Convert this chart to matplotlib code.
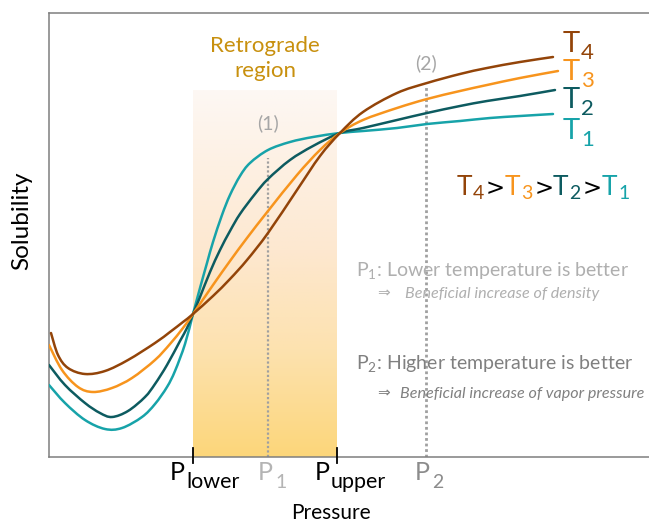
import numpy as np
import matplotlib
matplotlib.use("Agg")
import matplotlib.pyplot as plt
from matplotlib.path import Path
from matplotlib.patches import PathPatch

plt.rcParams['font.family'] = ['Lato', 'DejaVu Sans']
plt.rcParams['mathtext.fontset'] = 'custom'
plt.rcParams['mathtext.rm'] = 'Lato'
plt.rcParams['mathtext.it'] = 'Lato:italic'
plt.rcParams['mathtext.bf'] = 'Lato:bold'

# ---- data (schematic units: pressure 0..600, solubility 0..444) ----
t1_x = [0, 16, 36, 56, 73, 93, 106, 118, 126, 136, 144, 151, 158, 164, 173, 181, 191, 201, 219, 241, 264, 291, 314, 348, 378, 411, 441, 471, 504]
t1_y = [72, 54, 37, 28, 29, 40, 53, 70, 86, 113, 143, 169, 194, 215, 242, 262, 281, 294, 307, 315, 320, 324, 326, 329, 333, 336, 339, 341, 343]

t2_x = [0, 16, 36, 51, 63, 79, 96, 106, 118, 131, 138, 144, 151, 161, 171, 181, 191, 206, 219, 241, 264, 291, 314, 348, 378, 411, 438, 471, 506]
t2_y = [92, 72, 54, 44, 40, 46, 60, 73, 92, 116, 129, 143, 160, 185, 207, 226, 243, 263, 278, 297, 311, 324, 329, 337, 344, 351, 356, 361, 367]

t3_x = [0, 13, 29, 44, 63, 83, 106, 121, 134, 144, 164, 181, 198, 219, 248, 271, 291, 314, 348, 378, 411, 438, 471, 509]
t3_y = [112, 87, 70, 65, 69, 79, 97, 113, 129, 143, 172, 196, 219, 246, 282, 307, 324, 337, 349, 358, 366, 372, 379, 386]

t4_x = [2, 9, 19, 36, 56, 79, 106, 121, 134, 144, 164, 181, 198, 219, 248, 271, 291, 314, 348, 378, 411, 438, 471, 504]
t4_y = [124, 102, 89, 83, 86, 97, 114, 125, 135, 143, 161, 178, 197, 224, 267, 301, 324, 345, 364, 374, 383, 389, 395, 400]

series = [("1", t1_x, t1_y, "#17A3A9"),
          ("2", t2_x, t2_y, "#0D5B60"),
          ("3", t3_x, t3_y, "#F7941D"),
          ("4", t4_x, t4_y, "#934409")]

region = (144, 288)          # retrograde region (P_lower, P_upper)
region_top = 367
p1, p2 = 219, 377
p1_top, p2_top = 299, 372

# ---- figure ----
fig = plt.figure(figsize=(6.49, 5.23), dpi=100)
ax = fig.add_axes([49/649, 66/523, 600/649, 444/523])
ax.set_xlim(0, 600)
ax.set_ylim(0, 444)
ax.set_xticks([])
ax.set_yticks([])
for s in ['left', 'top', 'bottom']:
    ax.spines[s].set_color('#7F7F7F')
    ax.spines[s].set_linewidth(1.1)
ax.spines['right'].set_visible(False)

# gradient region
stops_y = np.array([0, 107, 207, 367])
stops_c = np.array([[252, 214, 122], [253, 226, 175], [253, 232, 208], [253, 248, 244]]) / 255.0
yy = np.linspace(0, region_top, 300)
grad = np.stack([np.interp(yy, stops_y, stops_c[:, k]) for k in range(3)], axis=-1)
grad = grad[::-1][:, None, :]
ax.imshow(grad, extent=[region[0], region[1], 0, region_top], aspect='auto', zorder=0, interpolation='bilinear')

# dotted lines
ax.plot([p1, p1], [0, p1_top], color='#A0A0A0', lw=1.6, ls=(0, (1, 1)), zorder=1)
ax.plot([p2, p2], [0, p2_top], color='#A0A0A0', lw=2.0, ls=(0, (1, 1)), zorder=1)


def smooth_path(xs, ys):
    """Cubic Bezier path passing through every data point (Catmull-Rom tangents)."""
    P = np.column_stack([xs, ys]).astype(float)
    n = len(P)
    verts = [P[0]]
    codes = [Path.MOVETO]
    for i in range(n - 1):
        p0 = P[i - 1] if i > 0 else P[i]
        p1_ = P[i]
        p2_ = P[i + 1]
        p3 = P[i + 2] if i + 2 < n else P[i + 1]
        c1 = p1_ + (p2_ - p0) / 6.0
        c2 = p2_ - (p3 - p1_) / 6.0
        verts += [c1, c2, p2_]
        codes += [Path.CURVE4] * 3
    return Path(verts, codes)


for name, xs, ys, c in series:
    patch = PathPatch(smooth_path(xs, ys), facecolor='none', edgecolor=c, lw=1.8,
                      zorder=3, capstyle='round', joinstyle='round')
    ax.add_patch(patch)

# ticks at region bounds
for xv in region:
    ax.plot([xv, xv], [-6, 9], color='black', lw=1.3, clip_on=False, zorder=4)

fig.canvas.draw()
renderer = fig.canvas.get_renderer()


def sub_label(x, y, main, sub, color, fs, sfs, drop, gap=1):
    kw = dict(color=color, ha='left', va='baseline', clip_on=False)
    t = ax.text(x, y, main, fontsize=fs, **kw)
    bb = t.get_window_extent(renderer)
    xs = ax.transData.inverted().transform((bb.x1, 0))[0] + gap
    if sub:
        t2 = ax.text(xs, y - drop, sub, fontsize=sfs, **kw)
        bb = t2.get_window_extent(renderer)
    return ax.transData.inverted().transform((bb.x1, 0))[0]


# curve labels at right
lab_y = {"1": 318, "2": 349, "3": 377, "4": 405}
for name, xs, ys, c in series:
    sub_label(514, lab_y[name], "T", name, c, 21, 16, 7, gap=1)

# retrograde text
ax.text(216, 405, "Retrograde", color='#C8900E', fontsize=16, ha='center', va='baseline')
ax.text(216, 380, "region", color='#C8900E', fontsize=16, ha='center', va='baseline')
ax.text(219, 334, "(1)", color='#A6A6A6', fontsize=14, ha='center', va='center')
ax.text(377, 394, "(2)", color='#A6A6A6', fontsize=14, ha='center', va='center')

# ordering T4>T3>T2>T1
eq_y = 262
eq_parts = [(408, "4", "#934409"), (456, "3", "#F7941D"), (504, "2", "#0D5B60"), (553, "1", "#17A3A9")]
for xp, n, c in eq_parts:
    sub_label(xp, eq_y, "T", n, c, 19, 14, 4, gap=0.5)
for xg in [437, 486, 534]:
    ax.text(xg, eq_y, ">", color='black', fontsize=16.5, ha='left', va='baseline', family=['DejaVu Sans'])

# notes
ax.text(307, 181, r'$\mathrm{P}_{1}$: Lower temperature is better', color='#AFAFAF', fontsize=14, ha='left', va='baseline')
ax.text(328, 159, '\u21D2', color='#AFAFAF', fontsize=11, ha='left', va='baseline', family=['DejaVu Sans'])
ax.text(356, 159, 'Beneficial increase of density', color='#AFAFAF', fontsize=11.6, style='italic', ha='left', va='baseline')
ax.text(307, 88, r'$\mathrm{P}_{2}$: Higher temperature is better', color='#808080', fontsize=14, ha='left', va='baseline')
ax.text(328, 59, '\u21D2', color='#808080', fontsize=11, ha='left', va='baseline', family=['DejaVu Sans'])
ax.text(351, 59, 'Beneficial increase of vapor pressure', color='#808080', fontsize=11.6, style='italic', ha='left', va='baseline')

# bottom labels
sub_label(121, -23, "P", "lower", 'black', 18, 15.5, 8, gap=1)
sub_label(209, -23, "P", "1", '#B4B4B4', 18, 14, 8, gap=2)
sub_label(266, -23, "P", "upper", 'black', 18, 15.5, 8, gap=1)
sub_label(366, -23, "P", "2", '#8C8C8C', 18, 14, 8, gap=2)

fig.text(331/649, 1 - 513/523, "Pressure", fontsize=15, ha='center', va='center')
fig.text(22/649, 1 - 221/523, "Solubility", fontsize=17.5, ha='center', va='center', rotation=90)

fig.savefig("out.png", dpi=100)
